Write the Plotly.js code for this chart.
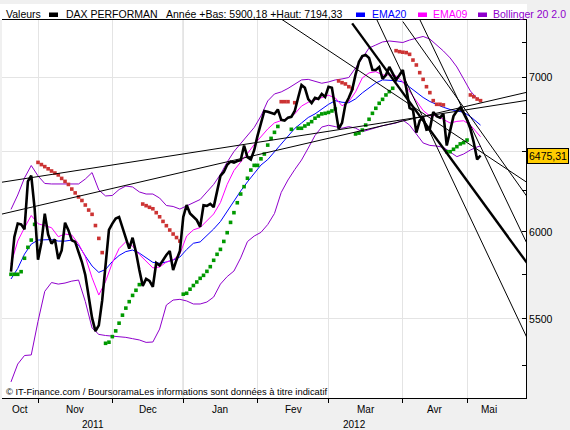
<!DOCTYPE html>
<html><head><meta charset="utf-8">
<script src="https://cdn.plot.ly/plotly-3.0.1.min.js"></script>
<style>html,body{margin:0;padding:0;background:#f0f0f0;}#chart{width:570px;height:430px;}</style>
</head><body><div id="chart"></div>
<script>
// ---- data (trading-day index: 0 = 1 Nov 2011) ----
const firstIndex = -8;
const closeValues = [
5766,5970,6050,6045,6015,6310,6346,6141,
5835,5935,6110,5985,5930,5955,5840,5890,6055,6010,5950,5940,5880,5822,5747,5622,5506,5434,5465,5603,5800,6012,
6050,6080,6090,6025,5960,5900,5965,5880,5776,5685,5725,5713,5680,5817,5802,5834,5863,5886,5776,5834,5886,
6090,6163,6111,6090,6071,6030,6161,6158,6170,6150,6237,6345,6370,6416,6436,6430,6440,6445,6540,6465,6450,6510,
6605,6680,6770,6765,6757,6750,6780,6710,6705,6725,6730,6770,6860,6948,6928,6850,6824,6860,6852,6886,6865,
6935,6928,6800,6650,6690,6815,6860,6915,7020,7110,7152,7160,7138,7053,7053,7074,6990,7017,7074,7032,6983,7017,
7053,6927,6790,6777,6625,6705,6725,6645,6650,6763,6735,6725,6750,6540,6645,6735,6770,6793,6755,
6710,6650,6560,6450,6475.31];
const sarValues = [
5751,5751,5751,5766,5844,5908,5951,6045,
6431,6417,6404,6390,6376,6363,6351,6329,6310,6291,6262,6238,6213,6191,6163,6132,6106,6038,5961,5877,
5368,5374,5404,5435,5477,5521,5560,5596,5631,5660,5692,
6169,6159,6149,6140,6116,6091,6063,6037,6011,5987,5966,5945,
5638,5643,5666,5687,5707,5728,5745,5768,5795,5832,5867,5896,5943,5995,6057,6116,6177,6231,6277,6330,6382,6412,6412,6454,6485,6543,6587,6627,6666,
6833,6833,6833,6647,6826,
6654,6654,6669,6682,6698,6721,6736,6750,6754,6760,6770,6783,
6976,6964,6955,6936,6925,
6616,6622,6642,6675,6714,6754,6788,6822,6849,6879,6902,6925,
7190,7183,7179,7176,7164,7123,7088,7034,6987,6936,6895,6840,6815,6815,6811,
6500,6500,6516,6533,6551,6559,6576,
6879,6867,6851,6840];
const indicatorIndex = [-8,-6,-4,-2,0,2,4,6,8,10,12,14,16,18,20,22,24,26,28,30,32,34,36,38,40,42,44,46,48,50,52,54,56,58,60,62,64,66,68,70,72,74,76,78,80,82,84,86,88,90,92,94,96,98,100,102,104,106,108,110,112,114,116,118,120,122,124,126,128,130,131];
const ema20Values = [5724,5785,5868,5927,5951,5951,5954,5945,5945,5951,5921,5857,5799,5762,5779,5825,5860,5883,5892,5874,5845,5820,5815,5822,5834,5851,5895,5932,5940,5977,6017,6062,6126,6188,6250,6307,6363,6414,6449,6501,6551,6605,6653,6689,6726,6750,6783,6815,6840,6829,6826,6852,6893,6927,6962,6983,6983,6978,6969,6931,6894,6862,6834,6814,6795,6780,6772,6761,6732,6697,6675];
const ema09Values = [5811,5945,6025,6099,6049,6036,6025,5971,5987,5981,5928,5853,5731,5633,5710,5817,5901,5941,5915,5866,5828,5788,5793,5822,5834,5869,5975,6012,6026,6066,6108,6178,6291,6379,6431,6488,6547,6596,6649,6690,6707,6721,6750,6803,6829,6846,6862,6877,6859,6805,6833,6900,6997,7032,7041,7018,7018,7011,6969,6903,6840,6773,6736,6740,6713,6689,6700,6704,6675,6625,6598];
const bollUpperValues = [6136,6225,6332,6411,6345,6297,6294,6294,6294,6298,6294,6325,6366,6256,6219,6222,6259,6281,6275,6244,6231,6231,6206,6160,6154,6138,6157,6175,6197,6244,6291,6354,6433,6501,6553,6599,6659,6736,6838,6886,6900,6924,6955,6983,6987,6974,6960,6969,6983,6990,7000,7067,7138,7209,7231,7253,7260,7256,7249,7267,7278,7293,7274,7231,7188,7138,7074,6990,6906,6855,6844];
const bollLowerValues = [5165,5258,5303,5306,5487,5654,5704,5695,5701,5712,5718,5597,5451,5416,5410,5407,5404,5400,5393,5386,5373,5375,5445,5577,5605,5609,5600,5583,5583,5594,5622,5695,5738,5770,5846,5942,5975,5997,6044,6111,6241,6319,6385,6446,6524,6606,6662,6674,6665,6654,6665,6655,6631,6645,6660,6671,6680,6689,6709,6675,6616,6557,6541,6537,6528,6495,6468,6485,6511,6531,6537];
// trend lines: start/end (index, value)
const trendX0 = [-11, -11, 72, 93, 100, 113, 108];
const trendY0 = [6304, 6106, 7421, 7389, 7432, 7418, 7402];
const trendX1 = [145, 145, 145, 145, 145, 145, 145];
const trendY1 = [6843, 6899, 6300, 5810, 5388, 5920, 6208];
const monthStarts = [0, 22, 43, 65, 86, 108, 127];
const monthLabels = ['Oct','Nov','Dec','Jan','Fev','Mar','Avr','Mai'];
const yearLabels = ['2011','2012'];
const yearStartIndex = 43;
const yTickVals = [5500, 6000, 6500, 7000];
const yTickText = ['5500','6000','','7000'];   // 6500 is hidden under the last-value box
const yMinorVals = [5250, 5750, 6250, 6750, 7250];
const lastValueText = '6475,31';
const headerTexts = ['Valeurs','DAX PERFORMAN','Année +Bas: 5900,18 +Haut: 7194,33','EMA20','EMA09','Bollinger 20 2.0'];
const copyrightText = '© IT-Finance.com / BoursoramaLes informations sont données à titre indicatif';

// ---- layout geometry ----
const L = 2, T = 20, W = 524, H = 378;
const X_RANGE = [-10.66, 144.46];
const Y_RANGE = [3.706094, 3.870036];
const pxX = p => (p - L) / W;
const pxY = p => (T + H - p) / H;
const FONT = 'Liberation Sans, Arial, sans-serif';
const PURPLE = '#8f00cc';

const dayIndex = closeValues.map((_, k) => firstIndex + k);
const traces = [];
traces.push({x: indicatorIndex, y: bollUpperValues, mode: 'lines', line: {color: PURPLE, width: 1}});
traces.push({x: indicatorIndex, y: bollLowerValues, mode: 'lines', line: {color: PURPLE, width: 1}});
traces.push({x: indicatorIndex, y: ema20Values, mode: 'lines', line: {color: '#0000ff', width: 1}});
traces.push({x: indicatorIndex, y: ema09Values, mode: 'lines', line: {color: '#ff00ff', width: 1}});
const sarBelow = sarValues.map((v, k) => v < closeValues[k] ? v : null);
const sarAbove = sarValues.map((v, k) => v >= closeValues[k] ? v : null);
traces.push({x: dayIndex, y: sarBelow, mode: 'markers', marker: {symbol: 'square', size: 3.6, color: '#009900'}});
traces.push({x: dayIndex, y: sarAbove, mode: 'markers', marker: {symbol: 'square', size: 3.6, color: '#cc3333'}});
for (let k = 0; k < trendX0.length; k++) {
  traces.push({x: [trendX0[k], trendX1[k]], y: [trendY0[k], trendY1[k]], mode: 'lines',
    line: {color: '#000', width: k === 3 ? 2.4 : 1}});
}
traces.push({x: dayIndex, y: closeValues, mode: 'lines', line: {color: '#000', width: 2.6}});

const annotations = [];
const labelCenters = [(X_RANGE[0] + monthStarts[0]) / 2];
for (let k = 0; k < monthStarts.length - 1; k++) labelCenters.push((monthStarts[k] + monthStarts[k + 1]) / 2);
labelCenters.push(monthStarts[monthStarts.length - 1] + 6.5);
monthLabels.forEach((m, k) => annotations.push({x: labelCenters[k], xref: 'x', y: pxY(409.5), yref: 'paper',
  text: m, showarrow: false, xanchor: 'center', yanchor: 'middle', font: {family: FONT, size: 10, color: '#000'}}));
const yearCenters = [(X_RANGE[0] + yearStartIndex) / 2, (yearStartIndex + X_RANGE[1]) / 2];
yearLabels.forEach((t, k) => annotations.push({x: yearCenters[k], xref: 'x', y: pxY(424), yref: 'paper',
  text: t, showarrow: false, xanchor: 'center', yanchor: 'middle', font: {family: FONT, size: 10, color: '#000'}}));
const headerX = [3.5, 64, 164, 370, 431, 491];
const headerColors = ['#000', '#000', '#000', '#0000ff', '#ff00ff', PURPLE];
headerTexts.forEach((t, k) => annotations.push({x: pxX(headerX[k]), xref: 'paper', y: pxY(14.5), yref: 'paper',
  text: t, showarrow: false, xanchor: 'left', yanchor: 'middle', font: {family: FONT, size: 10.5, color: headerColors[k]}}));
annotations.push({x: pxX(3.5), xref: 'paper', y: pxY(391.5), yref: 'paper', text: copyrightText, showarrow: false,
  xanchor: 'left', yanchor: 'middle', font: {family: FONT, size: 9.4, color: '#000'}});
annotations.push({x: pxX(527), xref: 'paper', y: Math.log10(closeValues[closeValues.length - 1]), yref: 'y',
  text: lastValueText, showarrow: false, xanchor: 'left', yanchor: 'middle', bgcolor: '#ffcc00',
  bordercolor: '#000', borderwidth: 1, borderpad: 1, font: {family: FONT, size: 10.5, color: '#000'}});

const sq = (x0, x1, c) => ({type: 'rect', xref: 'paper', yref: 'paper', x0: pxX(x0), x1: pxX(x1),
  y0: pxY(17), y1: pxY(12.5), fillcolor: c, line: {width: 0}});
const shapes = [
  {type: 'rect', xref: 'paper', yref: 'paper', x0: pxX(0), x1: pxX(527), y0: pxY(20), y1: pxY(4),
   fillcolor: '#fff', line: {width: 0}, layer: 'below'},
  {type: 'line', xref: 'x', yref: 'paper', x0: yearStartIndex, x1: yearStartIndex, y0: 0, y1: 1,
   line: {color: '#a0a0a0', width: 1}, layer: 'below'},
  sq(49, 58, '#000'), sq(356, 365, '#0000ff'), sq(418, 427, '#ff00ff'), sq(478, 487, PURPLE)
];

const layout = {
  width: 570, height: 430, margin: {l: L, r: 570 - L - W, t: T, b: 430 - T - H, pad: 0},
  paper_bgcolor: '#f0f0f0', plot_bgcolor: '#fff', showlegend: false, hovermode: false,
  xaxis: {type: 'linear', range: X_RANGE, tickmode: 'array', tickvals: monthStarts, showticklabels: false,
    ticks: 'outside', ticklen: 4, tickcolor: '#000', showgrid: true, gridcolor: '#e4e4e4', gridwidth: 1,
    showline: true, linecolor: '#000', linewidth: 1, mirror: true, zeroline: false, fixedrange: true},
  yaxis: {type: 'log', side: 'right', range: Y_RANGE, tickmode: 'array', tickvals: yTickVals, ticktext: yTickText,
    ticks: 'inside', ticklen: 4, tickcolor: '#000', showgrid: true, gridcolor: '#e4e4e4', gridwidth: 1,
    showline: true, linecolor: '#000', linewidth: 1, zeroline: false, fixedrange: true,
    tickfont: {family: FONT, size: 10.5, color: '#000'},
    minor: {tickmode: 'array', tickvals: yMinorVals, ticks: 'inside', ticklen: 4, tickcolor: '#000', showgrid: false}},
  annotations: annotations, shapes: shapes
};
Plotly.newPlot('chart', traces, layout, {staticPlot: true, displayModeBar: false});
</script></body></html>
